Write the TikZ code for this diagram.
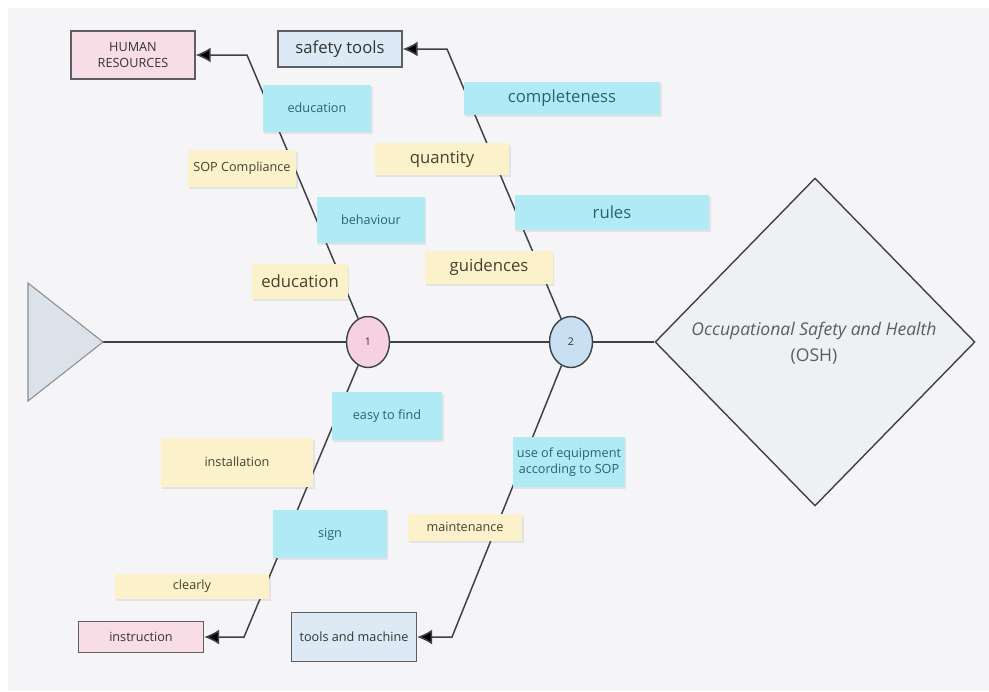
\documentclass[tikz,border=0pt]{standalone}
\usepackage{fontspec}
\setmainfont{Open Sans}
\usepackage{xcolor}
\usepackage{tikz}
\usetikzlibrary{arrows.meta, shapes.geometric, shadows}

\definecolor{pagebg}{HTML}{F5F5F8}
\definecolor{inkline}{HTML}{3E4146}
\definecolor{notecyan}{HTML}{B0EAF4}
\definecolor{noteyellow}{HTML}{FBF1CB}
\definecolor{cyantext}{HTML}{2E6170}
\definecolor{yellowtext}{HTML}{45422F}
\definecolor{headpink}{HTML}{F8DCE6}
\definecolor{headblue}{HTML}{DDEAF6}
\definecolor{onepink}{HTML}{F5D1E2}
\definecolor{twoblue}{HTML}{C9DFF2}
\definecolor{tailgrey}{HTML}{DCE2EA}
\definecolor{headgrey}{HTML}{EEF0F3}
\definecolor{oshtext}{HTML}{5A5D62}

\pgfdeclarelayer{back}
\pgfdeclarelayer{links}
\pgfsetlayers{back,links,main}

\begin{document}
\begin{tikzpicture}[x=0.02cm, y=-0.02cm, >={Latex[length=8.5pt,width=8.5pt,fill=black]},
    small/.style={font=\fontsize{7.2}{8.8}\selectfont},
    big/.style={font=\fontsize{9.5}{11}\selectfont},
    head/.style={draw=inkline!85, line width=0.8pt, align=center, text=black!80, inner sep=0pt},
    note/.style={align=center, inner sep=0pt, drop shadow={opacity=0.15, shadow xshift=0.6pt, shadow yshift=-1.2pt}},
    cyannote/.style={note, fill=notecyan, text=cyantext},
    yellownote/.style={note, fill=noteyellow, text=yellowtext},
    bone/.style={draw=inkline, line width=0.85pt},
    spine/.style={draw=inkline, line width=1.4pt},
    num/.style={ellipse, draw=inkline, line width=0.8pt, minimum width=0.86cm, minimum height=1.02cm, inner sep=0pt, text=black!80, font=\fontsize{6}{7}\selectfont}]

    \useasboundingbox (0,0) rectangle (989,691);
    \begin{pgfonlayer}{back}
        \fill[white] (0,0) rectangle (989,691);
        \fill[pagebg] (8,8) rectangle (989,691);
    \end{pgfonlayer}

    % tail and head of the fish
    \filldraw[fill=tailgrey, draw=inkline!60, line width=0.6pt] (28,283) -- (103,342) -- (28,401) -- cycle;
    \coordinate (tail) at (103,342);
    \node[diamond, draw=inkline, fill=headgrey, line width=0.8pt, minimum width=6.4cm, minimum height=6.56cm, inner sep=0pt] (osh) at (815,342) {};
    \node[font=\fontsize{10}{15}\selectfont, text=oshtext, align=center] (oshlabel) at (814,343) {\textit{Occupational Safety and Health}\\(OSH)};

    \node[num, fill=onepink] (c1) at (368,342) {1};
    \node[num, fill=twoblue] (c2) at (571,342) {2};

    % categories
    \node[head, small, fill=headpink, minimum width=2.48cm, minimum height=0.96cm] (hr) at (133,55) {HUMAN\\RESOURCES};
    \node[head, big, fill=headblue, minimum width=2.48cm, minimum height=0.72cm] (tools) at (340,49) {safety tools};
    \node[head, small, fill=headpink, minimum width=2.5cm, minimum height=0.62cm] (instr) at (141,637) {instruction};
    \node[head, small, fill=headblue, minimum width=2.5cm, minimum height=0.98cm] (machine) at (354,637) {tools and machine};

    % causes
    \node[cyannote, small, minimum width=2.18cm, minimum height=0.94cm] (edu1) at (317,108) {education};
    \node[yellownote, small, minimum width=2.18cm, minimum height=0.74cm] (sop) at (242,168) {SOP Compliance};
    \node[cyannote, small, minimum width=2.16cm, minimum height=0.92cm] (behav) at (371,220) {behaviour};
    \node[yellownote, big, minimum width=1.92cm, minimum height=0.70cm] (edu2) at (300,281) {education};

    \node[cyannote, big, minimum width=3.94cm, minimum height=0.66cm] (compl) at (562,98) {completeness};
    \node[yellownote, big, minimum width=2.7cm, minimum height=0.64cm] (quant) at (442,159) {quantity};
    \node[cyannote, big, minimum width=3.9cm, minimum height=0.70cm] (rules) at (612,212) {rules};
    \node[yellownote, big, minimum width=2.56cm, minimum height=0.66cm] (guid) at (489,267) {guidences};

    \node[cyannote, small, minimum width=2.22cm, minimum height=0.96cm] (easy) at (387,416) {easy to find};
    \node[yellownote, small, minimum width=3.06cm, minimum height=0.98cm] (install) at (237,462) {installation};
    \node[cyannote, small, minimum width=2.28cm, minimum height=0.96cm] (sign) at (330,534) {sign};
    \node[yellownote, small, minimum width=3.1cm, minimum height=0.5cm] (clear) at (192,586) {clearly};

    \node[cyannote, small, minimum width=2.24cm, minimum height=1.0cm] (useeq) at (569,462) {use of equipment\\according to SOP};
    \node[yellownote, small, minimum width=2.3cm, minimum height=0.54cm] (maint) at (465,527) {maintenance};

    % bones
    \coordinate (hrbend) at (247,55);
    \coordinate (toolsbend) at (447,49);
    \coordinate (instrbend) at (244,637);
    \coordinate (machbend) at (452,637);
    \begin{pgfonlayer}{links}
        \draw[spine] (tail) -- (c1);
        \draw[spine] (c1) -- (c2);
        \draw[spine] (c2) -- (osh.west);
        \draw[bone, ->] (c1) -- (hrbend) -- (hr.east);
        \draw[bone, ->] (c2) -- (toolsbend) -- (tools.east);
        \draw[bone, ->] (c1) -- (instrbend) -- (instr.east);
        \draw[bone, ->] (c2) -- (machbend) -- (machine.east);
    \end{pgfonlayer}
\end{tikzpicture}
\end{document}
